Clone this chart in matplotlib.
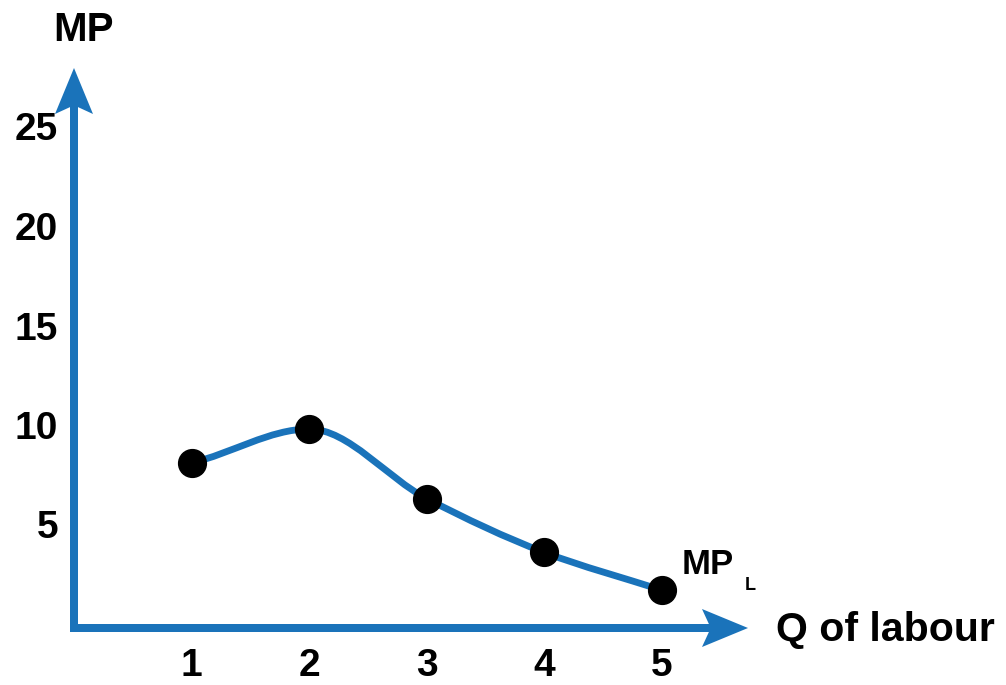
import matplotlib
matplotlib.use("Agg")
import matplotlib.pyplot as plt
import numpy as np
from matplotlib.patches import FancyArrow, PathPatch
from matplotlib.path import Path

# ---------------------------------------------------------------------------
# Data
# ---------------------------------------------------------------------------
labour = [1, 2, 3, 4, 5]
mp_labour = [8.3, 10.0, 6.5, 3.8, 1.9]
y_ticks = [5, 10, 15, 20, 25]
x_ticks = [1, 2, 3, 4, 5]

BLUE = "#1a73ba"
FONT = "Liberation Sans"

# figure: 1006 x 685 px, axes fill the figure
W, H = 1006, 685
X0_PX, X_SCALE = 74, 117.6    # px of x=0, px per unit
Y0_PX, Y_SCALE = 628, 19.9    # px of y=0 (from top), px per unit

fig = plt.figure(figsize=(W / 100, H / 100), dpi=100)
ax = fig.add_axes([0, 0, 1, 1])
ax.set_xlim(-X0_PX / X_SCALE, (W - X0_PX) / X_SCALE)
ax.set_ylim((Y0_PX - H) / Y_SCALE, Y0_PX / Y_SCALE)
ax.axis("off")


def px_x(p):
    return p / X_SCALE


def px_y(p):
    return p / Y_SCALE


# ---------------------------------------------------------------------------
# Axes arrows
# ---------------------------------------------------------------------------
lw_px, head_w_px, head_l_px = 8, 38, 46
y_top = (Y0_PX - 68) / Y_SCALE
x_right = (748 - X0_PX) / X_SCALE

ax.add_patch(FancyArrow(0, -px_y(lw_px / 2), 0, y_top + px_y(lw_px / 2),
                        width=px_x(lw_px), head_width=px_x(head_w_px),
                        head_length=px_y(head_l_px), overhang=0.15,
                        length_includes_head=True, color=BLUE, lw=0))
ax.add_patch(FancyArrow(-px_x(lw_px / 2), 0, x_right + px_x(lw_px / 2), 0,
                        width=px_y(lw_px), head_width=px_y(head_w_px),
                        head_length=px_x(head_l_px), overhang=0.15,
                        length_includes_head=True, color=BLUE, lw=0))

# ---------------------------------------------------------------------------
# Smooth MP curve (monotone Hermite tangents -> cubic Bezier)
# ---------------------------------------------------------------------------
x = np.asarray(labour, float)
y = np.asarray(mp_labour, float)
d = np.diff(y) / np.diff(x)
m = np.empty_like(y)
m[0], m[-1] = d[0] * 0.8, d[-1]
for i in range(1, len(y) - 1):
    if d[i - 1] * d[i] <= 0:
        m[i] = 0.0
    else:
        m[i] = 2 / (1 / d[i - 1] + 1 / d[i])

verts, codes = [(x[0], y[0])], [Path.MOVETO]
for i in range(len(x) - 1):
    h = x[i + 1] - x[i]
    verts += [(x[i] + h / 3, y[i] + m[i] * h / 3),
              (x[i + 1] - h / 3, y[i + 1] - m[i + 1] * h / 3),
              (x[i + 1], y[i + 1])]
    codes += [Path.CURVE4] * 3
ax.add_patch(PathPatch(Path(verts, codes), fill=False, edgecolor=BLUE,
                       lw=4.9, capstyle="round"))
ax.plot(labour, mp_labour, "o", color="black", markersize=20, zorder=5)

# ---------------------------------------------------------------------------
# Texts
# ---------------------------------------------------------------------------
tick_kw = dict(fontweight="bold", family=FONT, color="black")
for v in y_ticks:
    ax.text(-px_x(16), v, str(v), ha="right", va="center", fontsize=28,
            **tick_kw)
for v in x_ticks:
    ax.text(v, -px_y(38), str(v), ha="center", va="center", fontsize=28,
            **tick_kw)

ax.text(px_x(83 - X0_PX), (Y0_PX - 30) / Y_SCALE, "MP", ha="center",
        va="center", fontsize=29, **tick_kw)
ax.text((776 - X0_PX) / X_SCALE, (Y0_PX - 630) / Y_SCALE, "Q of labour",
        ha="left", va="center", fontsize=29.5, **tick_kw)
ax.text((682 - X0_PX) / X_SCALE, (Y0_PX - 564) / Y_SCALE, "MP",
        ha="left", va="center", fontsize=25, **tick_kw)
ax.text((745 - X0_PX) / X_SCALE, (Y0_PX - 585) / Y_SCALE, "L",
        ha="left", va="center", fontsize=13, **tick_kw)

fig.savefig("out.png", dpi=100)
